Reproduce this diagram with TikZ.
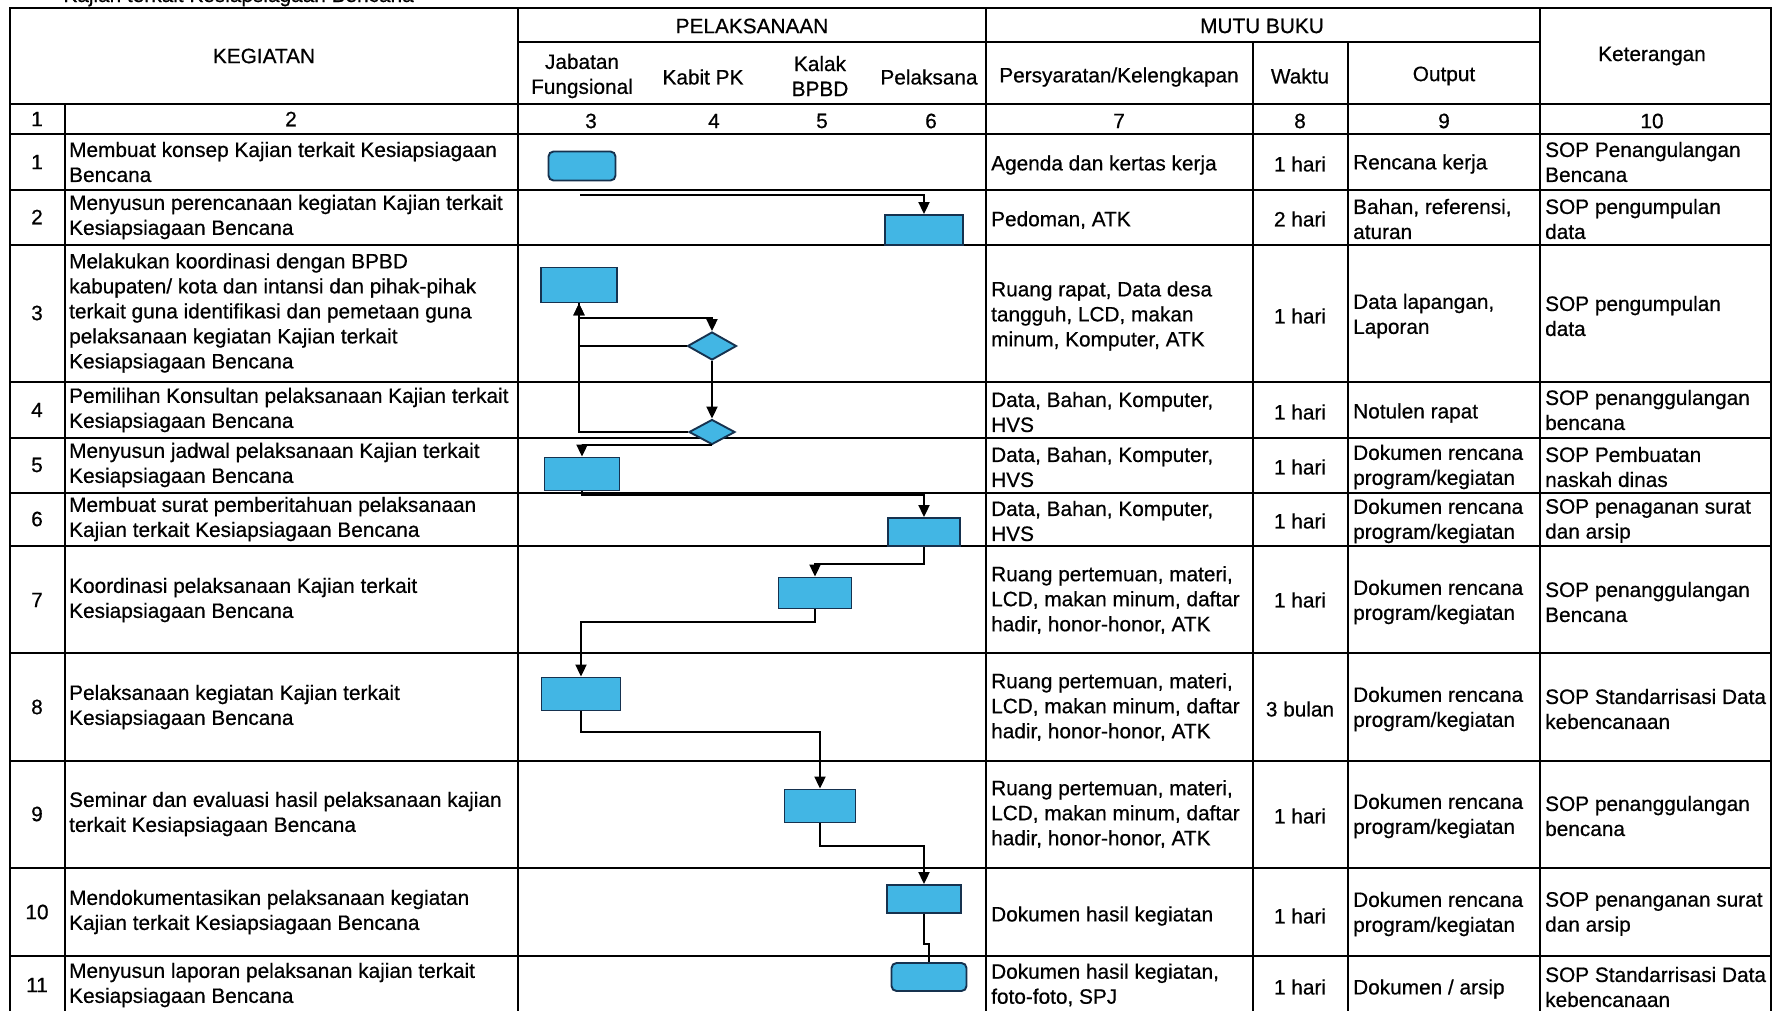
\documentclass[tikz,border=0pt]{standalone}
\usepackage{fontspec}
\setmainfont{Liberation Sans}[FakeBold=0.6]
\usetikzlibrary{shapes.geometric,arrows.meta}
\definecolor{boxfill}{HTML}{42B6E4}
\definecolor{boxline}{HTML}{16324F}
\begin{document}
\begin{tikzpicture}[x=1pt,y=-1pt,
  every node/.style={font=\fontsize{20.8}{25}\selectfont},
  grid/.style={line width=2.8pt},
  txt/.style={anchor=west,align=left,inner sep=0pt},
  mid/.style={align=center,inner sep=0pt},
  proc/.style={rectangle,draw=boxline,fill=boxfill,line width=1.9pt,inner sep=0pt},
  decide/.style={diamond,draw=boxline,fill=boxfill,line width=1.9pt,inner sep=0pt},
  flow/.style={line width=2pt,-{Triangle[length=12pt,width=11pt]}},
  link/.style={line width=2pt}]

\useasboundingbox (0,0) rectangle (1786,1010);

\node[anchor=base east,inner sep=0pt] (judul) at (414,2) {Kajian terkait Kesiapsiagaan Bencana};

\draw[grid] (10,8) rectangle (1771,1014);
\draw[grid] (518,8) -- (518,1014);
\draw[grid] (986,8) -- (986,1014);
\draw[grid] (1540,8) -- (1540,1014);
\draw[grid] (518,42) -- (1540,42);
\draw[grid] (1253,42) -- (1253,1014);
\draw[grid] (1348,42) -- (1348,1014);
\draw[grid] (65,104) -- (65,1014);
\draw[grid] (10,104) -- (1771,104);
\draw[grid] (10,134) -- (1771,134);
\draw[grid] (10,190) -- (1771,190);
\draw[grid] (10,245) -- (1771,245);
\draw[grid] (10,382) -- (1771,382);
\draw[grid] (10,438) -- (1771,438);
\draw[grid] (10,493) -- (1771,493);
\draw[grid] (10,546) -- (1771,546);
\draw[grid] (10,653) -- (1771,653);
\draw[grid] (10,761) -- (1771,761);
\draw[grid] (10,868) -- (1771,868);
\draw[grid] (10,956) -- (1771,956);

\node[mid] (kegiatan) at (264,56) {KEGIATAN};
\node[mid] (pelaksanaan) at (752,26) {PELAKSANAAN};
\node[mid] (mutu) at (1262,26) {MUTU BUKU};
\node[mid] (jafung) at (582,76) {Jabatan\\Fungsional};
\node[mid] (kabit) at (703,77) {Kabit PK};
\node[mid] (kalak) at (820,76) {Kalak\\BPBD};
\node[mid] (pelaksana) at (929,77) {Pelaksana};
\node[mid] (syarat) at (1119,77) {Persyaratan/Kelengkapan};
\node[mid] (waktu) at (1300,76) {Waktu};
\node[mid] (output) at (1444,76) {Output};
\node[mid] (ket) at (1652,56) {Keterangan};

\node[mid] (h1) at (37,119) {1};
\node[mid] (h2) at (291,119) {2};
\node[mid] (h3) at (591,121) {3};
\node[mid] (h4) at (714,121) {4};
\node[mid] (h5) at (822,121) {5};
\node[mid] (h6) at (931,121) {6};
\node[mid] (h7) at (1119,121) {7};
\node[mid] (h8) at (1300,121) {8};
\node[mid] (h9) at (1444,121) {9};
\node[mid] (h10) at (1652,121) {10};

\node[mid] (no1) at (37,162) {1};
\node[txt] (keg1) at (69,162) {Membuat konsep Kajian terkait Kesiapsiagaan\\Bencana};
\node[txt] (syr1) at (991,165) {Agenda dan kertas kerja};
\node[mid] (wkt1) at (1300,164) {1 hari};
\node[txt] (out1) at (1353,164) {Rencana kerja};
\node[txt] (ket1) at (1545,162) {SOP Penangulangan\\Bencana};

\node[mid] (no2) at (37,217) {2};
\node[txt] (keg2) at (69,217) {Menyusun perencanaan kegiatan Kajian terkait\\Kesiapsiagaan Bencana};
\node[txt] (syr2) at (991,220) {Pedoman, ATK};
\node[mid] (wkt2) at (1300,219) {2 hari};
\node[txt] (out2) at (1353,219) {Bahan, referensi,\\aturan};
\node[txt] (ket2) at (1545,219) {SOP pengumpulan\\data};

\node[mid] (no3) at (37,313) {3};
\node[txt] (keg3) at (69,313) {Melakukan koordinasi dengan BPBD\\kabupaten/ kota dan intansi dan pihak-pihak\\terkait guna identifikasi dan pemetaan guna\\pelaksanaan kegiatan Kajian terkait\\Kesiapsiagaan Bencana};
\node[txt] (syr3) at (991,316) {Ruang rapat, Data desa\\tangguh, LCD, makan\\minum, Komputer, ATK};
\node[mid] (wkt3) at (1300,316) {1 hari};
\node[txt] (out3) at (1353,316) {Data lapangan,\\Laporan};
\node[txt] (ket3) at (1545,316) {SOP pengumpulan\\data};

\node[mid] (no4) at (37,410) {4};
\node[txt] (keg4) at (69,410) {Pemilihan Konsultan pelaksanaan Kajian terkait\\Kesiapsiagaan Bencana};
\node[txt] (syr4) at (991,412) {Data, Bahan, Komputer,\\HVS};
\node[mid] (wkt4) at (1300,412) {1 hari};
\node[txt] (out4) at (1353,413) {Notulen rapat};
\node[txt] (ket4) at (1545,410) {SOP penanggulangan\\bencana};

\node[mid] (no5) at (37,465) {5};
\node[txt] (keg5) at (69,465) {Menyusun jadwal pelaksanaan Kajian terkait\\Kesiapsiagaan Bencana};
\node[txt] (syr5) at (991,467) {Data, Bahan, Komputer,\\HVS};
\node[mid] (wkt5) at (1300,467) {1 hari};
\node[txt] (out5) at (1353,467) {Dokumen rencana\\program/kegiatan};
\node[txt] (ket5) at (1545,467) {SOP Pembuatan\\naskah dinas};

\node[mid] (no6) at (37,519) {6};
\node[txt] (keg6) at (69,519) {Membuat surat pemberitahuan pelaksanaan\\Kajian terkait Kesiapsiagaan Bencana};
\node[txt] (syr6) at (991,521) {Data, Bahan, Komputer,\\HVS};
\node[mid] (wkt6) at (1300,521) {1 hari};
\node[txt] (out6) at (1353,521) {Dokumen rencana\\program/kegiatan};
\node[txt] (ket6) at (1545,521) {SOP penaganan surat\\dan arsip};

\node[mid] (no7) at (37,600) {7};
\node[txt] (keg7) at (69,600) {Koordinasi pelaksanaan Kajian terkait\\Kesiapsiagaan Bencana};
\node[txt] (syr7) at (991,600) {Ruang pertemuan, materi,\\LCD, makan minum, daftar\\hadir, honor-honor, ATK};
\node[mid] (wkt7) at (1300,600) {1 hari};
\node[txt] (out7) at (1353,602) {Dokumen rencana\\program/kegiatan};
\node[txt] (ket7) at (1545,602) {SOP penanggulangan\\Bencana};

\node[mid] (no8) at (37,707) {8};
\node[txt] (keg8) at (69,707) {Pelaksanaan kegiatan Kajian terkait\\Kesiapsiagaan Bencana};
\node[txt] (syr8) at (991,707) {Ruang pertemuan, materi,\\LCD, makan minum, daftar\\hadir, honor-honor, ATK};
\node[mid] (wkt8) at (1300,709) {3 bulan};
\node[txt] (out8) at (1353,709) {Dokumen rencana\\program/kegiatan};
\node[txt] (ket8) at (1545,709) {SOP Standarrisasi Data\\kebencanaan};

\node[mid] (no9) at (37,814) {9};
\node[txt] (keg9) at (69,814) {Seminar dan evaluasi hasil pelaksanaan kajian\\terkait Kesiapsiagaan Bencana};
\node[txt] (syr9) at (991,814) {Ruang pertemuan, materi,\\LCD, makan minum, daftar\\hadir, honor-honor, ATK};
\node[mid] (wkt9) at (1300,816) {1 hari};
\node[txt] (out9) at (1353,816) {Dokumen rencana\\program/kegiatan};
\node[txt] (ket9) at (1545,816) {SOP penanggulangan\\bencana};

\node[mid] (no10) at (37,912) {10};
\node[txt] (keg10) at (69,912) {Mendokumentasikan pelaksanaan kegiatan\\Kajian terkait Kesiapsiagaan Bencana};
\node[txt] (syr10) at (991,916) {Dokumen hasil kegiatan};
\node[mid] (wkt10) at (1300,916) {1 hari};
\node[txt] (out10) at (1353,914) {Dokumen rencana\\program/kegiatan};
\node[txt] (ket10) at (1545,914) {SOP penanganan surat\\dan arsip};

\node[mid] (no11) at (37,985) {11};
\node[txt] (keg11) at (69,985) {Menyusun laporan pelaksanan kajian terkait\\Kesiapsiagaan Bencana};
\node[txt] (syr11) at (991,985) {Dokumen hasil kegiatan,\\foto-foto, SPJ};
\node[mid] (wkt11) at (1300,987) {1 hari};
\node[txt] (out11) at (1353,989) {Dokumen / arsip};
\node[txt] (ket11) at (1545,987) {SOP Standarrisasi Data\\kebencanaan};

\node[proc,rounded corners=5pt,minimum width=67pt,minimum height=29pt] (b1) at (582,166) {};
\node[proc,minimum width=78pt,minimum height=30pt] (b2) at (924,230) {};
\node[proc,minimum width=76pt,minimum height=35pt] (b3) at (579,285) {};
\node[decide,minimum width=49pt,minimum height=28pt] (d1) at (712,346) {};
\node[decide,minimum width=46pt,minimum height=25pt] (d2) at (712,432) {};
\node[proc,minimum width=75pt,minimum height=33pt] (b5) at (582,474) {};
\node[proc,minimum width=72pt,minimum height=28pt] (b6) at (924,532) {};
\node[proc,minimum width=73pt,minimum height=31pt] (b7) at (815,593) {};
\node[proc,minimum width=79pt,minimum height=33pt] (b8) at (581,694) {};
\node[proc,minimum width=71pt,minimum height=33pt] (b9) at (820,806) {};
\node[proc,minimum width=74pt,minimum height=28pt] (b10) at (924,899) {};
\node[proc,rounded corners=5pt,minimum width=75pt,minimum height=28pt] (b11) at (929,977) {};

\coordinate (c1) at (580,195);
\draw[flow] (c1) -| (b2.north);
\draw[flow] (b3.south) -- ++(0,15) -| (d1.north);
\draw[flow] (d1.west) -| (b3.south);
\draw[flow] (d2.west) -| (b3.south);
\draw[flow] (d1.south) -- (d2.north);
\draw[flow] (d2.south) -| (b5.north);
\draw[flow] (b5.south) -- ++(0,4) -| (b6.north);
\draw[flow] (b6.south) -- ++(0,17) -| (b7.north);
\draw[flow] (b7.south) -- ++(0,13) -| (b8.north);
\draw[flow] (b8.south) -- ++(0,21) -| (b9.north);
\draw[flow] (b9.south) -- ++(0,23) -| (b10.north);
\draw[link] (b10.south) -- ++(0,30) -| (b11.north);

\end{tikzpicture}
\end{document}
